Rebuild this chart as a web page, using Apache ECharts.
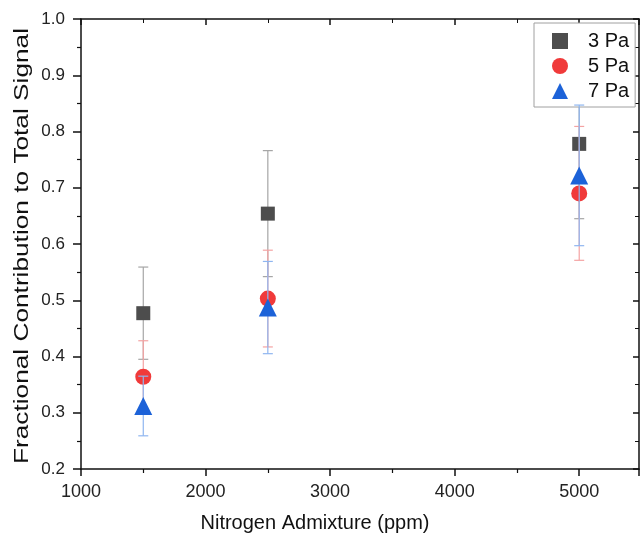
<!DOCTYPE html>
<html><head><meta charset="utf-8">
<script src="https://cdn.jsdelivr.net/npm/echarts@6/dist/echarts.min.js"></script>
<style>html,body{margin:0;padding:0;background:#fff}#c{width:641px;height:541px}</style>
</head><body><div id="c"></div>
<script>
const xValues = [1500, 2500, 5000];
const seriesNames = ['3 Pa', '5 Pa', '7 Pa'];
const values3 = [0.477, 0.654, 0.778];
const errors3 = [0.082, 0.112, 0.133];
const values5 = [0.364, 0.503, 0.690];
const errors5 = [0.064, 0.086, 0.119];
const values7 = [0.312, 0.487, 0.722];
const errors7 = [0.053, 0.082, 0.125];
const xTicks = [1000, 2000, 3000, 4000, 5000];
const yTicks = [0.2, 0.3, 0.4, 0.5, 0.6, 0.7, 0.8, 0.9, 1.0];
const xTitle = 'Nitrogen Admixture (ppm)';
const yTitle = 'Fractional Contribution to Total Signal';

const markColors = ['#4d4d4d', '#f03a3a', '#1c62d8'];
const barColors = ['#a6a6a6', '#f4a3a3', '#8fb6f0'];
const symbols = ['rect', 'circle', 'triangle'];
const sizes = [14, 16, 18];
const vals = [values3, values5, values7];
const errs = [errors3, errors5, errors7];

const FONT = 'Liberation Sans';
const chart = echarts.init(document.getElementById('c'), null, {renderer: 'canvas'});
const series = [];
vals.forEach((v, i) => {
  series.push({
    type: 'custom',
    name: 'err' + i,
    z: 2 + i * 2,
    data: xValues.map((x, k) => [x, v[k] - errs[i][k], v[k] + errs[i][k]]),
    renderItem: function (params, api) {
      const lo = api.coord([api.value(0), api.value(1)]);
      const hi = api.coord([api.value(0), api.value(2)]);
      const hw = 5;
      const st = {stroke: barColors[i], lineWidth: 1.2};
      return {type: 'group', children: [
        {type: 'line', shape: {x1: lo[0], y1: lo[1], x2: hi[0], y2: hi[1]}, style: st},
        {type: 'line', shape: {x1: lo[0]-hw, y1: lo[1], x2: lo[0]+hw, y2: lo[1]}, style: st},
        {type: 'line', shape: {x1: hi[0]-hw, y1: hi[1], x2: hi[0]+hw, y2: hi[1]}, style: st}
      ]};
    },
    silent: true
  });
  series.push({
    type: 'scatter',
    name: seriesNames[i],
    z: 3 + i * 2,
    symbol: symbols[i],
    symbolSize: sizes[i],
    itemStyle: {color: markColors[i], opacity: 1},
    data: xValues.map((x, k) => [x, v[k]])
  });
});

// stretch the y title along its length to match the reference span
const ctx = document.createElement('canvas').getContext('2d');
ctx.font = '20px "' + FONT + '"';
const yTitleScale = 436 / ctx.measureText(yTitle).width;

const axisLine = {show: true, lineStyle: {color: '#111', width: 1.5}};
chart.setOption({
  animation: false,
  backgroundColor: '#fff',
  grid: {left: 81, top: 19, right: 2, bottom: 72},
  legend: {
    data: seriesNames.map((n, i) => ({name: n, icon: symbols[i]})),
    orient: 'vertical',
    left: 534, top: 23,
    itemWidth: 16, itemHeight: 16,
    itemGap: 5,
    padding: [8, 6, 6, 18],
    borderColor: '#a0a0a0', borderWidth: 1,
    backgroundColor: '#fff',
    textStyle: {fontFamily: FONT, fontSize: 20, color: '#111', padding: [0, 0, 0, 15]}
  },
  xAxis: [{
    type: 'value', min: 1000, max: 5480, interval: 1000,
    axisLine: axisLine,
    axisTick: {show: true, inside: false, length: 7, lineStyle: {color: '#111', width: 1.5}},
    minorTick: {show: true, splitNumber: 2, length: 4, lineStyle: {color: '#111', width: 1.2}},
    axisLabel: {fontFamily: FONT, fontSize: 18, color: '#222', margin: 14, showMaxLabel: false,
      formatter: v => xTicks.includes(v) ? String(v) : ''},
    splitLine: {show: false}
  }, {
    type: 'value', position: 'top', min: 1000, max: 5480, interval: 1000,
    axisLine: axisLine,
    axisTick: {show: true, inside: true, length: 6, lineStyle: {color: '#111', width: 1.5}},
    minorTick: {show: true, splitNumber: 2, length: 4},
    axisLabel: {show: false}, splitLine: {show: false}
  }],
  yAxis: [{
    type: 'value', min: 0.2, max: 1.0, interval: 0.1,
    axisLine: axisLine,
    axisTick: {show: true, inside: false, length: 8, lineStyle: {color: '#111', width: 1.5}},
    minorTick: {show: true, splitNumber: 2, length: 4, lineStyle: {color: '#111', width: 1.2}},
    axisLabel: {fontFamily: FONT, fontSize: 17, color: '#222', margin: 16,
      formatter: v => { const t = yTicks.find(y => Math.abs(y - v) < 1e-6); return t !== undefined ? t.toFixed(1) : ''; }},
    splitLine: {show: false}
  }, {
    type: 'value', position: 'right', min: 0.2, max: 1.0, interval: 0.1,
    axisLine: axisLine,
    axisTick: {show: true, inside: true, length: 6, lineStyle: {color: '#111', width: 1.5}},
    minorTick: {show: true, splitNumber: 2, length: 4},
    axisLabel: {show: false}, splitLine: {show: false}
  }],
  graphic: [{
    type: 'text', x: 315, y: 523,
    style: {text: xTitle, fontFamily: FONT, fontSize: 20, fill: '#111', align: 'center', verticalAlign: 'middle'}
  }, {
    type: 'text', x: 22, y: 246, rotation: Math.PI / 2, scaleX: yTitleScale, scaleY: 1,
    style: {text: yTitle, fontFamily: FONT, fontSize: 20, fill: '#111', align: 'center', verticalAlign: 'middle'}
  }],
  series: series
});
</script></body></html>
